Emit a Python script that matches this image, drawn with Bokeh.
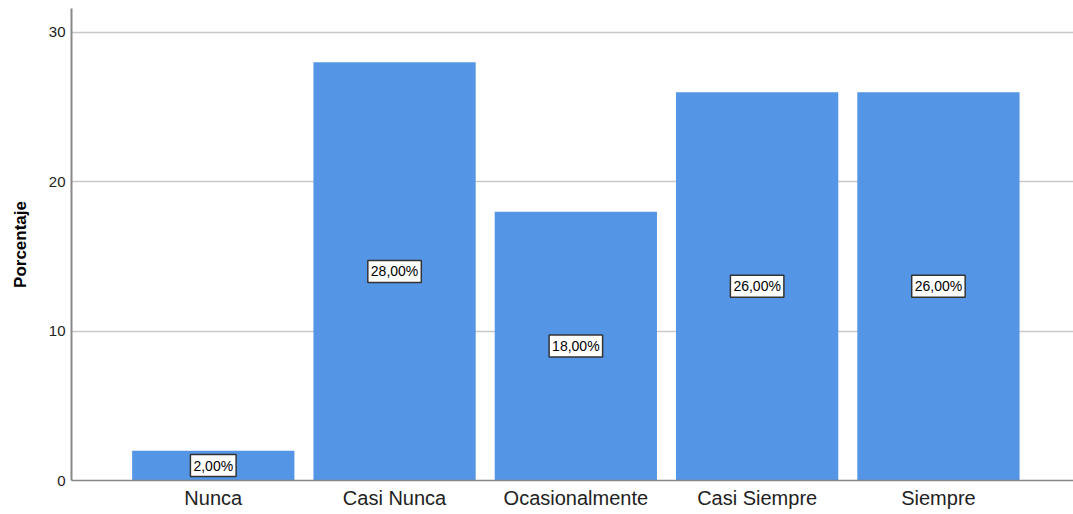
from bokeh.plotting import figure
from bokeh.models import ColumnDataSource, FixedTicker, Range1d
from bokeh.core.properties import value
from bokeh.embed import file_html
from bokeh.resources import INLINE

categories = ["Nunca", "Casi Nunca", "Ocasionalmente", "Casi Siempre", "Siempre"]
percentages = [2.0, 28.0, 18.0, 26.0, 26.0]
y_ticks = [0, 10, 20, 30]

xs = list(range(len(categories)))
labels = [f"{v:.2f}%".replace(".", ",") for v in percentages]
src = ColumnDataSource(dict(x=xs, top=percentages, mid=[v / 2 for v in percentages], lab=labels))

p = figure(width=1073, height=514, output_backend="svg", toolbar_location=None,
           x_range=Range1d(-0.782, 4.745), y_range=Range1d(0, 31.6),
           min_border_top=8, min_border_right=0, min_border_left=71, min_border_bottom=34)
p.outline_line_color = None
p.background_fill_color = "white"

p.vbar(x="x", top="top", width=0.895, source=src, fill_color="#5595e5", line_color=None)
p.text(x="x", y="mid", text="lab", source=src, text_align="center", text_baseline="middle",
       text_font=value("Liberation Sans"), text_font_size="14px", text_color="black",
       background_fill_color="white", border_line_color="#333333", border_line_width=1.5,
       padding=3)

p.xaxis.ticker = FixedTicker(ticks=xs)
p.xaxis.major_label_overrides = {i: c for i, c in enumerate(categories)}
p.xaxis.major_tick_line_color = None
p.xaxis.major_tick_out = 0
p.xaxis.major_tick_in = 0
p.xaxis.minor_tick_line_color = None
p.xaxis.axis_line_color = "#888888"
p.xaxis.axis_line_width = 1.5
p.xaxis.major_label_text_font = "Liberation Sans"
p.xaxis.major_label_text_font_size = "20px"
p.xaxis.major_label_text_color = "#222222"
p.xaxis.major_label_standoff = 6

p.yaxis.ticker = FixedTicker(ticks=y_ticks)
p.yaxis.major_tick_line_color = None
p.yaxis.major_tick_out = 0
p.yaxis.major_tick_in = 0
p.yaxis.minor_tick_line_color = None
p.yaxis.axis_line_color = "#888888"
p.yaxis.axis_line_width = 2
p.yaxis.major_label_text_font = "Liberation Sans"
p.yaxis.major_label_text_font_size = "15px"
p.yaxis.major_label_text_color = "#222222"
p.yaxis.major_label_standoff = 6
p.yaxis.axis_label = "Porcentaje"
p.yaxis.axis_label_text_font = "Liberation Sans"
p.yaxis.axis_label_text_font_style = "bold"
p.yaxis.axis_label_text_font_size = "17px"
p.yaxis.axis_label_text_color = "black"
p.yaxis.axis_label_standoff = 16

p.xgrid.grid_line_color = None
p.ygrid.ticker = FixedTicker(ticks=[10, 20, 30])
p.ygrid.grid_line_color = "#c8c8c8"
p.ygrid.grid_line_width = 1.5

open("out.html", "w").write(file_html(p, INLINE))
